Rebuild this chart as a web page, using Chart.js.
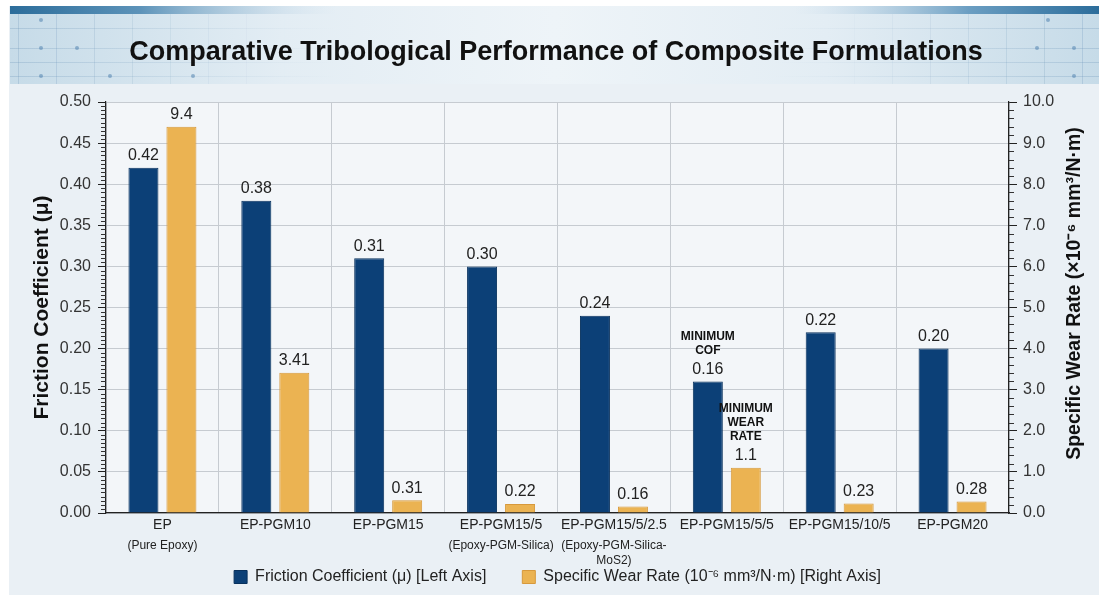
<!DOCTYPE html>
<html>
<head>
<meta charset="utf-8">
<script src="https://cdn.jsdelivr.net/npm/chart.js@4.4.1/dist/chart.umd.min.js"></script>
<style>
  html, body { margin: 0; padding: 0; background: #eaf0f5; }
  #wrap { width: 1099px; height: 595px; position: relative; }
</style>
</head>
<body>
<div id="wrap"><canvas id="chart" width="1099" height="595"></canvas></div>
<script>
// Formulations and their measured tribological properties
const categories = ['EP', 'EP-PGM10', 'EP-PGM15', 'EP-PGM15/5', 'EP-PGM15/5/2.5', 'EP-PGM15/5/5', 'EP-PGM15/10/5', 'EP-PGM20'];
const categoryNotes = [['(Pure Epoxy)'], [], [], ['(Epoxy-PGM-Silica)'], ['(Epoxy-PGM-Silica-', 'MoS2)'], [], [], []];
const frictionCoefficient = [0.42, 0.38, 0.31, 0.30, 0.24, 0.16, 0.22, 0.20];
const specificWearRate = [9.4, 3.41, 0.31, 0.22, 0.16, 1.1, 0.23, 0.28];

// Axis tick labels
const frictionTicks = ['0.00', '0.05', '0.10', '0.15', '0.20', '0.25', '0.30', '0.35', '0.40', '0.45', '0.50'];
const wearTicks = ['0.0', '1.0', '2.0', '3.0', '4.0', '5.0', '6.0', '7.0', '8.0', '9.0', '10.0'];

// Highlighted minima (dataset index, category index, text lines)
const callouts = [
  { series: 0, index: 5, lines: ['MINIMUM', 'COF'] },
  { series: 1, index: 5, lines: ['MINIMUM', 'WEAR', 'RATE'] }
];

const titleText = 'Comparative Tribological Performance of Composite Formulations';
const wearAxisTitle = 'Specific Wear Rate (×10⁻⁶ mm³/N·m)';
const FONT = "'Liberation Sans', Arial, Helvetica, sans-serif";

// Page background, header banner and plot backdrop
const backdrop = {
  id: 'backdrop',
  beforeDraw(chart) {
    const ctx = chart.ctx;
    const W = chart.width, H = chart.height;
    ctx.save();
    ctx.fillStyle = '#eaf0f5';
    ctx.fillRect(0, 0, W, H);
    ctx.fillStyle = '#ffffff';
    ctx.fillRect(0, 0, W, 6);
    ctx.fillRect(0, 0, 9, H);

    // banner body
    const bx = 10, by = 6, bw = W - 10, bh = 78;
    let g = ctx.createLinearGradient(bx, 0, bx + bw, 0);
    g.addColorStop(0, '#c6dbe8');
    g.addColorStop(0.25, '#e3edf4');
    g.addColorStop(0.5, '#eef4f8');
    g.addColorStop(0.75, '#e3edf4');
    g.addColorStop(1, '#c6dbe8');
    ctx.fillStyle = g;
    ctx.fillRect(bx, by, bw, bh);

    // faint grid inside the banner, strongest at the sides
    ctx.lineWidth = 1;
    for (let x = bx + 8; x < bx + bw; x += 38) {
      const d = Math.min(x - bx, bx + bw - x) / bw;
      const a = Math.max(0, 0.28 - d * 1.1);
      if (a <= 0) continue;
      ctx.strokeStyle = 'rgba(110,150,185,' + a.toFixed(3) + ')';
      ctx.beginPath(); ctx.moveTo(x + 0.5, by + 8); ctx.lineTo(x + 0.5, by + bh); ctx.stroke();
    }
    [28, 48, 62, 76].forEach(function (y) {
      let lg = ctx.createLinearGradient(bx, 0, bx + bw, 0);
      lg.addColorStop(0, 'rgba(110,150,185,0.30)');
      lg.addColorStop(0.3, 'rgba(110,150,185,0.0)');
      lg.addColorStop(0.7, 'rgba(110,150,185,0.0)');
      lg.addColorStop(1, 'rgba(110,150,185,0.30)');
      ctx.strokeStyle = lg;
      ctx.beginPath(); ctx.moveTo(bx, y + 0.5); ctx.lineTo(bx + bw, y + 0.5); ctx.stroke();
    });
    ctx.fillStyle = 'rgba(80,130,175,0.55)';
    [[41, 20], [41, 48], [41, 76], [77, 48], [110, 76], [1048, 20], [1074, 48], [1074, 76], [1037, 48], [193, 76]].forEach(function (p) {
      ctx.beginPath(); ctx.arc(p[0], p[1], 2, 0, Math.PI * 2); ctx.fill();
    });

    // dark top strip fading toward the middle
    g = ctx.createLinearGradient(bx, 0, bx + bw, 0);
    g.addColorStop(0, '#2c6d9b');
    g.addColorStop(0.12, '#5d93b9');
    g.addColorStop(0.3, 'rgba(200,220,235,0)');
    g.addColorStop(0.72, 'rgba(200,220,235,0)');
    g.addColorStop(0.88, '#6b9ec2');
    g.addColorStop(1, '#2c6d9b');
    ctx.fillStyle = g;
    ctx.fillRect(bx, by, bw, 8);

    // title
    ctx.font = 'bold 27px ' + FONT;
    ctx.fillStyle = '#111111';
    ctx.textAlign = 'center';
    ctx.textBaseline = 'middle';
    const tw = ctx.measureText(titleText).width;
    const sx = Math.min(1, 857 / tw);
    ctx.translate(556, 53);
    ctx.scale(sx, 1);
    ctx.fillText(titleText, 0, 0);
    ctx.restore();

    // plot area fill
    const a = chart.chartArea;
    ctx.save();
    ctx.fillStyle = '#f3f6f9';
    ctx.fillRect(a.left, a.top, a.right - a.left, a.bottom - a.top);
    ctx.restore();
  }
};

// Minor tick marks on both value axes, and the right axis title (reads bottom to top)
const axisExtras = {
  id: 'axisExtras',
  afterDraw(chart) {
    const ctx = chart.ctx;
    const yl = chart.scales.y, yr = chart.scales.y1;
    ctx.save();
    ctx.strokeStyle = '#333333';
    ctx.lineWidth = 1;
    for (let i = 0; i <= 100; i++) {
      if (i % 10 === 0) continue;
      const y = Math.round(yl.getPixelForValue(i * 0.005)) + 0.5;
      ctx.beginPath(); ctx.moveTo(yl.right - 5, y); ctx.lineTo(yl.right, y); ctx.stroke();
    }
    for (let i = 0; i <= 50; i++) {
      if (i % 5 === 0) continue;
      const y = Math.round(yr.getPixelForValue(i * 0.2)) + 0.5;
      ctx.beginPath(); ctx.moveTo(yr.left, y); ctx.lineTo(yr.left + 5, y); ctx.stroke();
    }
    ctx.translate(1075, (yr.top + yr.bottom) / 2 - 14);
    ctx.rotate(-Math.PI / 2);
    ctx.font = 'bold 19.5px ' + FONT;
    ctx.fillStyle = '#111111';
    ctx.textAlign = 'center';
    ctx.textBaseline = 'middle';
    ctx.fillText(wearAxisTitle, 0, 0);
    ctx.restore();
  }
};

// Value labels above bars, callouts and category labels
const labels = {
  id: 'labels',
  afterDatasetsDraw(chart) {
    const ctx = chart.ctx;
    ctx.save();
    ctx.textAlign = 'center';
    ctx.textBaseline = 'middle';
    ctx.fillStyle = '#222222';
    ctx.font = '16px ' + FONT;
    chart.data.datasets.forEach(function (ds, di) {
      const meta = chart.getDatasetMeta(di);
      meta.data.forEach(function (bar, i) {
        const v = ds.data[i];
        const txt = di === 0 ? v.toFixed(2) : String(v);
        ctx.fillText(txt, bar.x, bar.y - 12);
      });
    });

    ctx.font = 'bold 12px ' + FONT;
    ctx.fillStyle = '#111111';
    callouts.forEach(function (c) {
      const bar = chart.getDatasetMeta(c.series).data[c.index];
      const n = c.lines.length;
      c.lines.forEach(function (line, k) {
        ctx.fillText(line, bar.x, bar.y - 31 - (n - 1 - k) * 14);
      });
    });

    const xs = chart.scales.x;
    categories.forEach(function (cat, i) {
      const x = xs.getPixelForValue(i);
      ctx.font = '14px ' + FONT;
      ctx.fillStyle = '#222222';
      ctx.fillText(cat, x, xs.top + 12);
      ctx.font = '12px ' + FONT;
      categoryNotes[i].forEach(function (line, k) {
        ctx.fillText(line, x, xs.top + 33 + k * 15);
      });
    });
    ctx.restore();
  }
};

new Chart(document.getElementById('chart'), {
  type: 'bar',
  data: {
    labels: categories,
    datasets: [
      {
        label: 'Friction Coefficient (μ) [Left Axis]',
        data: frictionCoefficient,
        yAxisID: 'y',
        backgroundColor: '#0c4077',
        borderColor: '#08315d',
        borderWidth: 1,
        barPercentage: 0.79,
        categoryPercentage: 0.673
      },
      {
        label: 'Specific Wear Rate (10⁻⁶ mm³/N·m) [Right Axis]',
        data: specificWearRate,
        yAxisID: 'y1',
        backgroundColor: '#ebb352',
        borderColor: '#d7993c',
        borderWidth: 1,
        barPercentage: 0.79,
        categoryPercentage: 0.673
      }
    ]
  },
  options: {
    responsive: false,
    animation: false,
    layout: { padding: { top: 102, left: 26, right: 10, bottom: 0 } },
    plugins: {
      title: { display: false },
      tooltip: { enabled: false },
      legend: {
        position: 'bottom',
        labels: {
          color: '#222222',
          font: { family: FONT, size: 16 },
          boxWidth: 13,
          boxHeight: 13,
          padding: 36
        }
      }
    },
    scales: {
      x: {
        afterFit(scale) { scale.height = 20; },
        grid: { color: '#c6cbd1', lineWidth: 1, drawTicks: false, offset: true },
        border: { color: '#222222', width: 1.2 },
        ticks: { display: false }
      },
      y: {
        position: 'left',
        min: 0,
        max: 0.5,
        afterFit(scale) { scale.width = 80; },
        ticks: {
          stepSize: 0.05,
          color: '#333333',
          font: { family: FONT, size: 16 },
          padding: 7,
          callback: function (v, i) { return frictionTicks[i]; }
        },
        grid: { color: '#c6cbd1', lineWidth: 1, tickColor: '#222222', tickLength: 8 },
        border: { color: '#222222', width: 1.2 },
        title: {
          display: true,
          text: 'Friction Coefficient (μ)',
          color: '#111111',
          font: { family: FONT, size: 21, weight: 'bold' }
        }
      },
      y1: {
        position: 'right',
        min: 0,
        max: 10,
        afterFit(scale) { scale.width = 80; },
        ticks: {
          stepSize: 1,
          color: '#333333',
          font: { family: FONT, size: 16 },
          padding: 6,
          callback: function (v, i) { return wearTicks[i]; }
        },
        grid: { drawOnChartArea: false, tickColor: '#222222', tickLength: 8 },
        border: { color: '#222222', width: 1.2 },
        title: { display: false }
      }
    }
  },
  plugins: [backdrop, axisExtras, labels]
});
</script>
</body>
</html>
